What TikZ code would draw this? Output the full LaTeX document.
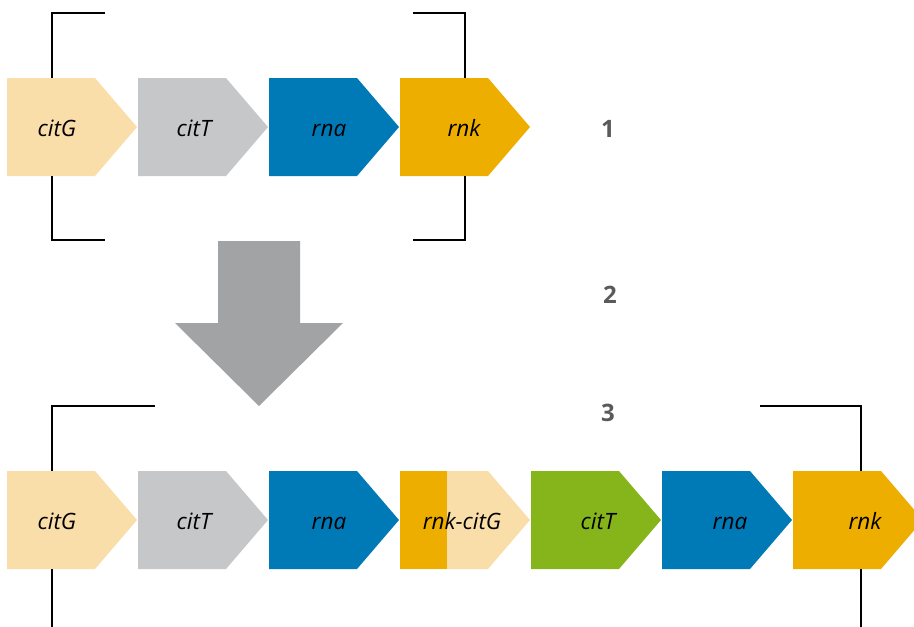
\documentclass[tikz,border=0pt]{standalone}
\usepackage{fontspec}
\setmainfont{Open Sans}
\usetikzlibrary{positioning}

\definecolor{citGcol}{HTML}{F9DEA9}
\definecolor{citTcol}{HTML}{C6C7C8}
\definecolor{rnacol}{HTML}{0079B7}
\definecolor{rnkcol}{HTML}{EDAE00}
\definecolor{greencol}{HTML}{86B51B}
\definecolor{bigarrowcol}{HTML}{A2A3A5}
\definecolor{numcol}{HTML}{5A5A5A}

% gene arrow: left x, middle y, colour
\newcommand{\genearrow}[3]{%
  \fill[#3] (#1,#2-49) -- ++(88,0) -- ++(42,49) -- ++(-42,49) -- ++(-88,0) -- cycle;}

\begin{document}
\begin{tikzpicture}[%
        x=1pt,y=-1pt,
        gene/.style={%
          font=\fontsize{22.5}{24}\selectfont\itshape,
          text=black,
          anchor=base,
          inner sep=0pt
        },
        stepnum/.style={%
          font=\fontsize{24}{26}\selectfont\bfseries,
          text=numcol,
          anchor=base,
          inner sep=0pt
        },
        bracket/.style={%
          draw=black,
          line width=1.6pt
        }
      ]
      \useasboundingbox (0,0) rectangle (914,627);
      \clip (0,0) rectangle (914,627);

      % before
      \genearrow{7}{127}{citGcol}
      \genearrow{138}{127}{citTcol}
      \genearrow{269}{127}{rnacol}
      \genearrow{400}{127}{rnkcol}
      \node[gene] (citG1) at (57,136) {citG};
      \node[gene] (citT1) at (194,136) {citT};
      \node[gene] (rna1) at (329,136) {rna};
      \node[gene] (rnk1) at (464,136) {rnk};

      \draw[bracket] (105,13) -- (52,13) -- (52,78);
      \draw[bracket] (52,176) -- (52,240) -- (105,240);
      \draw[bracket] (413,13) -- (465,13) -- (465,78);
      \draw[bracket] (465,176) -- (465,240) -- (413,240);

      % big arrow
      \fill[bigarrowcol] (218,241) -- (300,241) -- (300,323) -- (343,323)
        -- (259,406) -- (175,323) -- (218,323) -- cycle;

      % after
      \genearrow{7}{520}{citGcol}
      \genearrow{138}{520}{citTcol}
      \genearrow{269}{520}{rnacol}
      \genearrow{400}{520}{citGcol}
      \fill[rnkcol] (400,471) rectangle (447,569);
      \genearrow{531}{520}{greencol}
      \genearrow{662}{520}{rnacol}
      \genearrow{793}{520}{rnkcol}
      \node[gene] (citG2) at (57,529) {citG};
      \node[gene] (citT2) at (194,529) {citT};
      \node[gene] (rna2) at (329,529) {rna};
      \node[gene] (fused) at (462,529) {rnk-citG};
      \node[gene] (citT3) at (598,529) {citT};
      \node[gene] (rna3) at (730,529) {rna};
      \node[gene] (rnk2) at (865,529) {rnk};

      \draw[bracket] (155,406) -- (52,406) -- (52,471);
      \draw[bracket] (52,569) -- (52,627);
      \draw[bracket] (760,406) -- (861,406) -- (861,471);
      \draw[bracket] (861,569) -- (861,627);

      % steps
      \node[stepnum] (s1) at (608,137) {1};
      \node[stepnum] (s2) at (610,303) {2};
      \node[stepnum] (s3) at (608,421) {3};
\end{tikzpicture}
\end{document}
